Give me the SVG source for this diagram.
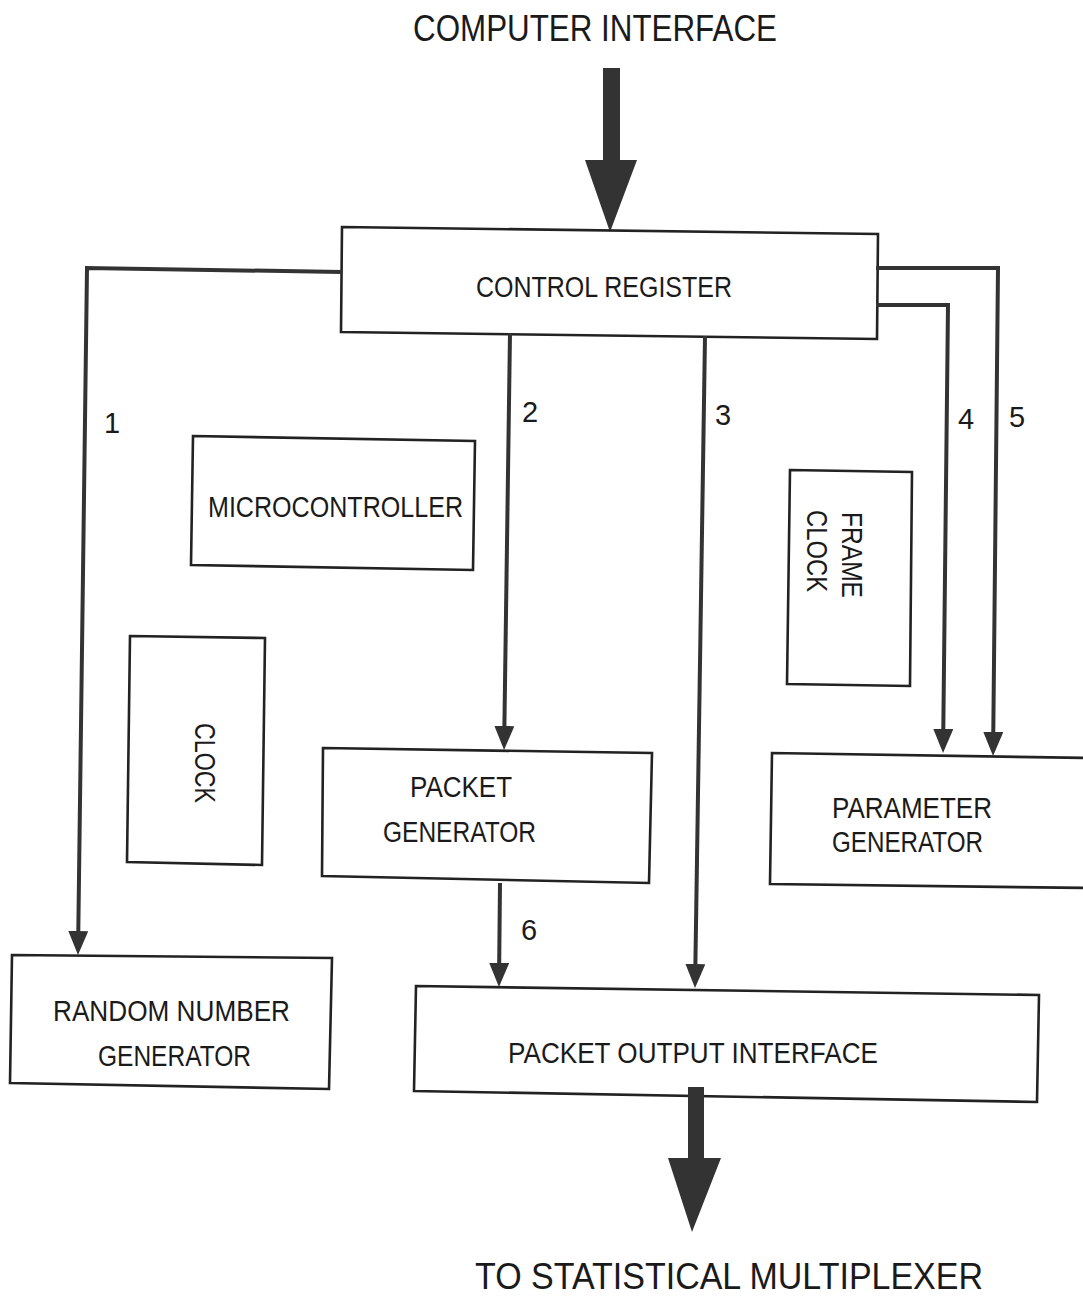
<svg xmlns="http://www.w3.org/2000/svg" width="1083" height="1297" viewBox="0 0 1083 1297">
<style>
.box{fill:none;stroke:#222;stroke-width:2.6;stroke-linejoin:miter}
.lbl{font-family:"Liberation Sans",Arial,sans-serif;font-size:30px;fill:#1a1a1a}
.big{font-family:"Liberation Sans",Arial,sans-serif;font-size:36px;fill:#1a1a1a}
.num{font-family:"Liberation Sans",Arial,sans-serif;font-size:29px;fill:#1a1a1a;text-anchor:middle}
.wire{fill:none;stroke:#333;stroke-width:4;stroke-linejoin:miter;marker-end:url(#ah)}
.fat{fill:#333;stroke:none}
</style>
<defs>
<marker id="ah" markerUnits="userSpaceOnUse" viewBox="0 -10 24 20" markerWidth="24" markerHeight="20" refX="0" refY="0" orient="auto">
<path d="M0,-10 L24,0 L0,10 Z" fill="#333"/>
</marker>
</defs>
<rect width="1083" height="1297" fill="#fff"/>

<g id="computer-interface">
<text class="big" x="413" y="41" textLength="364" lengthAdjust="spacingAndGlyphs">COMPUTER INTERFACE</text>
<polygon class="fat" points="603,68 620,68 620,160 637,160 610,232 585,160 603,160"/>
</g>

<g id="control-register">
<polygon class="box" points="342,227 878,234 877,339 341,332"/>
<text class="lbl" x="476" y="297" textLength="256" lengthAdjust="spacingAndGlyphs">CONTROL REGISTER</text>
</g>

<g id="microcontroller">
<polygon class="box" points="193,436 475,441 473,570 191,565"/>
<text class="lbl" x="208" y="517" textLength="255" lengthAdjust="spacingAndGlyphs">MICROCONTROLLER</text>
</g>

<g id="clock">
<polygon class="box" points="130,636 265,638 262,865 127,862"/>
<text class="lbl" transform="translate(195,723) rotate(90)" x="0" y="0" textLength="80" lengthAdjust="spacingAndGlyphs">CLOCK</text>
</g>

<g id="frame-clock">
<polygon class="box" points="790,470 912,472 910,686 787,684"/>
<text class="lbl" transform="translate(842,512) rotate(90)" x="0" y="0" textLength="86" lengthAdjust="spacingAndGlyphs">FRAME</text>
<text class="lbl" transform="translate(807,510) rotate(90)" x="0" y="0" textLength="82" lengthAdjust="spacingAndGlyphs">CLOCK</text>
</g>

<g id="packet-generator">
<polygon class="box" points="323,748 652,753 649,883 322,876"/>
<text class="lbl" x="410" y="797" textLength="102" lengthAdjust="spacingAndGlyphs">PACKET</text>
<text class="lbl" x="383" y="842" textLength="153" lengthAdjust="spacingAndGlyphs">GENERATOR</text>
</g>

<g id="parameter-generator">
<polygon class="box" points="1090,758 772,753 770,884 1090,888"/>
<text class="lbl" x="832" y="818" textLength="160" lengthAdjust="spacingAndGlyphs">PARAMETER</text>
<text class="lbl" x="832" y="852" textLength="151" lengthAdjust="spacingAndGlyphs">GENERATOR</text>
</g>

<g id="random-number-generator">
<polygon class="box" points="12,955 332,958 329,1089 10,1083"/>
<text class="lbl" x="53" y="1021" textLength="237" lengthAdjust="spacingAndGlyphs">RANDOM NUMBER</text>
<text class="lbl" x="98" y="1066" textLength="153" lengthAdjust="spacingAndGlyphs">GENERATOR</text>
</g>

<g id="packet-output-interface">
<polygon class="box" points="416,986 1039,995 1037,1102 414,1091"/>
<text class="lbl" x="508" y="1063" textLength="370" lengthAdjust="spacingAndGlyphs">PACKET OUTPUT INTERFACE</text>
</g>

<g id="statistical-multiplexer">
<polygon class="fat" points="688,1087 704,1087 704,1158 721,1158 692,1232 668,1158 688,1158"/>
<text class="big" x="475" y="1289" font-size="35" textLength="508" lengthAdjust="spacingAndGlyphs">TO STATISTICAL MULTIPLEXER</text>
</g>

<g id="connectors">
<path class="wire" d="M342,272 L87,268 L78.3,931"/>
<path class="wire" d="M510,333 L504.4,726"/>
<path class="wire" d="M705,336 L695.4,964"/>
<path class="wire" d="M876,305 L948,305 L943.3,729"/>
<path class="wire" d="M876,268 L998,268 L993.3,732"/>
<path class="wire" d="M500,883 L499.2,963"/>
<text class="num" x="112" y="433">1</text>
<text class="num" x="530" y="422">2</text>
<text class="num" x="723" y="425">3</text>
<text class="num" x="966" y="429">4</text>
<text class="num" x="1017" y="427">5</text>
<text class="num" x="529" y="940">6</text>
</g>
</svg>
